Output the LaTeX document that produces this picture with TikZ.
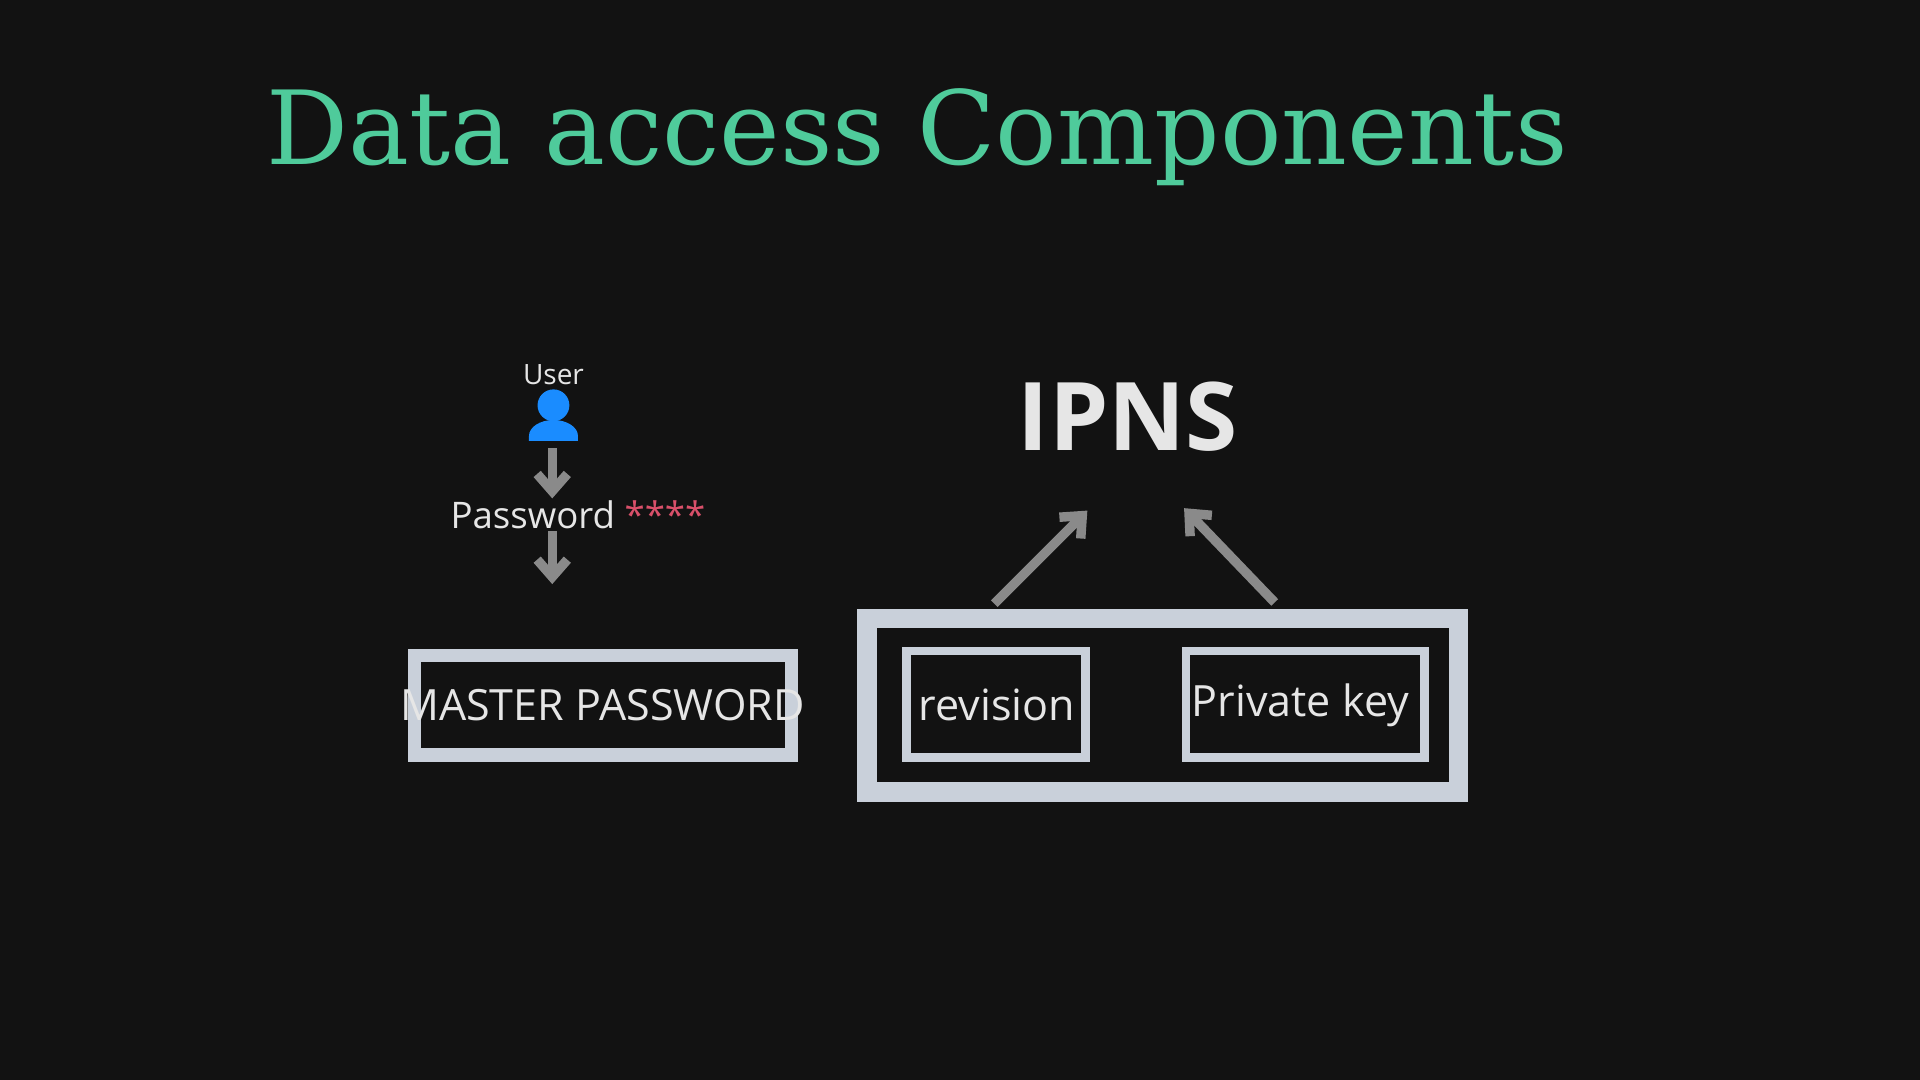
\documentclass[tikz,border=0pt]{standalone}
\usepackage{fontspec}
\setmainfont{Open Sans}
\newfontfamily\titlefont{DejaVu Serif}
\usetikzlibrary{arrows.meta}
\definecolor{bg}{HTML}{121212}
\definecolor{ttl}{HTML}{4FCB9B}
\definecolor{frame}{HTML}{C9D0DA}
\definecolor{txt}{HTML}{E6E6E6}
\definecolor{arr}{HTML}{8A8A8A}
\definecolor{usr}{HTML}{1A8CFF}
\definecolor{star}{HTML}{D9506A}
\tikzset{
  px/.style={x=0.01cm,y=-0.01cm},
  conn/.style={draw=arr,line width=2.2pt,-{Straight Barb[length=4pt,width=7pt]}},
  lbl/.style={text=txt,inner sep=0pt},
}
\begin{document}
\begin{tikzpicture}[px]
\fill[bg] (0,0) rectangle (1568,882);
\useasboundingbox (0,0) rectangle (1568,882);
\node[text=ttl,inner sep=0pt,anchor=base] (title) at (749,134) {\resizebox{10.62cm}{!}{\titlefont Data access Components}};
% user
\fill[usr] (452,331) circle (13);
\fill[usr] (432,360) -- (432,356) arc[start angle=180,end angle=0,x radius=20,y radius=-13] -- (472,360) -- cycle;
\node[lbl,font=\fontsize{6.5pt}{7pt}\selectfont] (user) at (452,306) {User};
\coordinate (uicon) at (451,366);
\node[lbl,font=\fontsize{8.5pt}{10pt}\selectfont] (pw) at (472,420) {Password \textcolor{star}{****}};
\coordinate (pwtop) at (451,407);
\coordinate (pwbot) at (451,434);
\coordinate (mptop) at (451,477);
\draw[conn] (uicon) -- (pwtop);
\draw[conn] (pwbot) -- (mptop);
% master password
\draw[frame,line width=11\pgflinewidth/\pgflinewidth*0.01cm] (338.5,535.5) rectangle (646.5,616.5);
\node[lbl,font=\fontsize{10pt}{12pt}\selectfont] (mp) at (492,576) {MASTER PASSWORD};
% IPNS box
\draw[frame,line width=0.16cm] (708,505) rectangle (1191,647);
\draw[frame,line width=0.07cm] (740.5,531.5) rectangle (886.5,618.5);
\draw[frame,line width=0.07cm] (968.5,531.5) rectangle (1163.5,618.5);
\node[lbl,font=\fontsize{10pt}{12pt}\selectfont] (rev) at (814,576) {revision};
\node[lbl,font=\fontsize{10pt}{12pt}\selectfont] (pk) at (1062,576) {Private key};
\node[lbl,font=\bfseries\fontsize{22pt}{26pt}\selectfont] (ipns) at (921,340) {IPNS};
\coordinate (a1s) at (812,493);
\coordinate (a1e) at (888,417);
\coordinate (a2s) at (1041,492);
\coordinate (a2e) at (967,415);
\draw[conn] (a1s) -- (a1e);
\draw[conn] (a2s) -- (a2e);
\end{tikzpicture}
\end{document}
